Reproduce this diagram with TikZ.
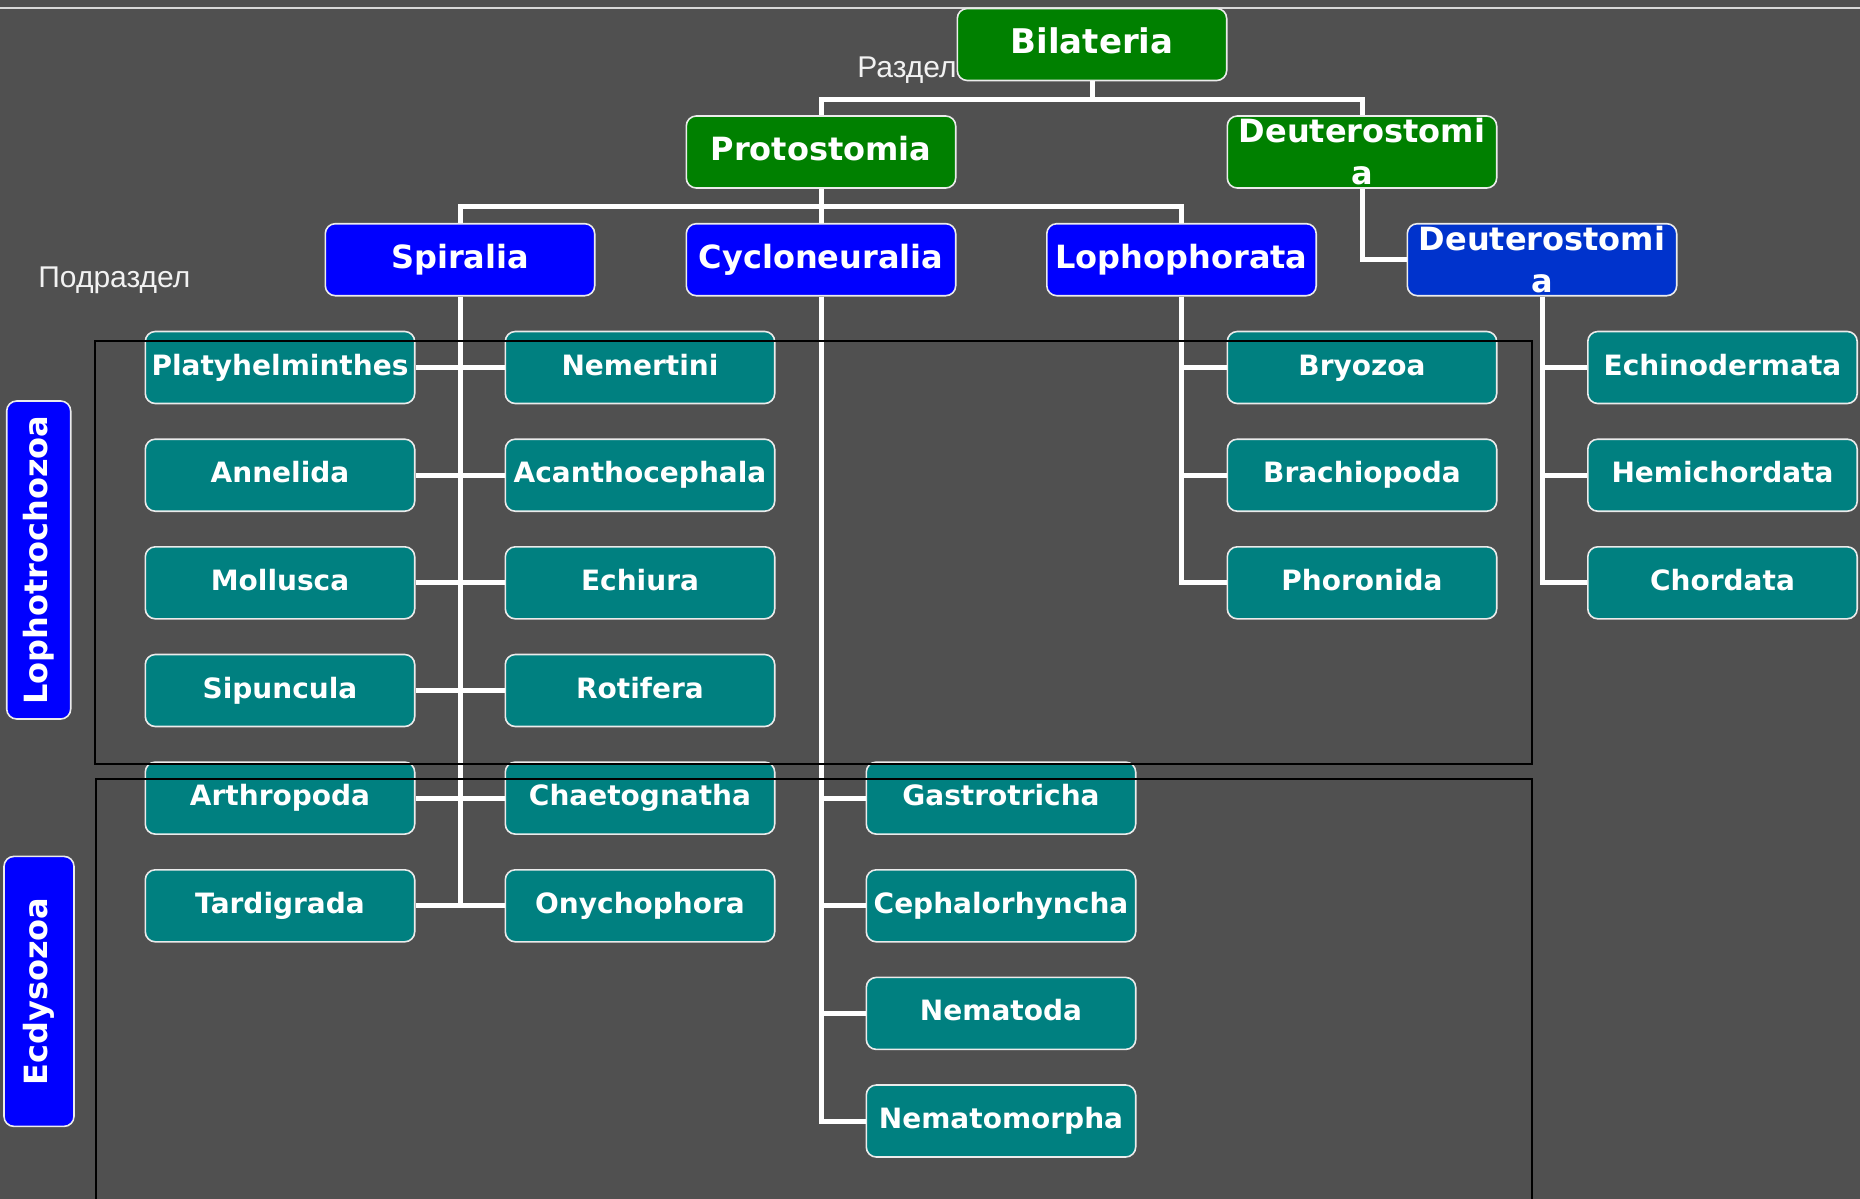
\documentclass[tikz,border=0pt]{standalone}
\usepackage{fontspec}
\setmainfont{DejaVu Sans}
\newfontfamily\rankfont{Liberation Sans}
\definecolor{bggray}{RGB}{80,80,80}
\definecolor{deepblue}{RGB}{0,51,204}

\begin{document}
\begin{tikzpicture}[x=0.5pt,y=-0.5pt,
	taxbox/.style={shape=rectangle,rounded corners=5pt,draw=white!92!black,line width=.8pt,text=white,align=center,inner sep=1pt,minimum width=134.7pt,minimum height=36pt},
	upper/.style={taxbox,font=\fontsize{16}{21}\selectfont\bfseries},
	oneline/.style={text height=11.8pt,text depth=3.3pt},
	leaf/.style={taxbox,text height=10.4pt,text depth=2.9pt,fill=teal,font=\fontsize{14}{17}\selectfont\bfseries},
	sidebox/.style={taxbox,oneline,fill=blue,rotate=90,font=\fontsize{16}{20}\selectfont\bfseries},
	link/.style={draw=white,line width=2.5pt},
	group/.style={draw=black,line width=1pt},
	rank/.style={text=white!95!black,font=\rankfont\fontsize{15}{18}\selectfont,inner sep=0pt}]
			\useasboundingbox (0,0) rectangle (1860,1199);
			\fill[bggray] (0,0) rectangle (1860,1199);
			\draw[white!85!black,line width=1pt] (0,8.3) -- (1860,8.3);
			
			\node[upper,text height=12.5pt,text depth=3.5pt,fill=green!50!black,font=\fontsize{17}{20}\selectfont\bfseries] (Bil) at (1092,44.5) {Bilateria};
			\node[upper,oneline,fill=green!50!black] (Pro) at (821,152) {Protostomia};
			\node[upper,fill=green!50!black] (Deu) at (1362,152) {Deuterostomi\\a};
			\node[upper,oneline,fill=blue] (Spi) at (460,259.7) {Spiralia};
			\node[upper,oneline,fill=blue] (Cyc) at (821,259.7) {Cycloneuralia};
			\node[upper,oneline,fill=blue] (Lop) at (1181.5,259.7) {Lophophorata};
			\node[upper,fill=deepblue] (DeuB) at (1542,259.7) {Deuterostomi\\a};
			
			\node[leaf] (Pla) at (280,367.5) {Platyhelminthes};
			\node[leaf] (Nem) at (640,367.5) {Nemertini};
			\node[leaf] (Ann) at (280,475.2) {Annelida};
			\node[leaf] (Aca) at (640,475.2) {Acanthocephala};
			\node[leaf] (Mol) at (280,582.8) {Mollusca};
			\node[leaf] (Ech) at (640,582.8) {Echiura};
			\node[leaf] (Sip) at (280,690.5) {Sipuncula};
			\node[leaf] (Rot) at (640,690.5) {Rotifera};
			\node[leaf] (Art) at (280,798.1) {Arthropoda};
			\node[leaf] (Cha) at (640,798.1) {Chaetognatha};
			\node[leaf] (Tar) at (280,905.8) {Tardigrada};
			\node[leaf] (Ony) at (640,905.8) {Onychophora};
			
			\node[leaf] (Gas) at (1001,798.1) {Gastrotricha};
			\node[leaf] (Cep) at (1001,905.8) {Cephalorhyncha};
			\node[leaf] (Nea) at (1001,1013.4) {Nematoda};
			\node[leaf] (Nmo) at (1001,1121) {Nematomorpha};
			
			\node[leaf] (Bry) at (1362,367.5) {Bryozoa};
			\node[leaf] (Bra) at (1362,475.2) {Brachiopoda};
			\node[leaf] (Pho) at (1362,582.8) {Phoronida};
			\node[leaf] (Ecd) at (1722.5,367.5) {Echinodermata};
			\node[leaf] (Hem) at (1722.5,475.2) {Hemichordata};
			\node[leaf] (Cho) at (1722.5,582.8) {Chordata};
			
			\node[sidebox,minimum width=159pt,minimum height=32pt] (Lph) at (38.7,560) {Lophotrochozoa};
			\node[sidebox,minimum width=135pt,minimum height=35pt] (Ecy) at (39,991.4) {Ecdysozoa};
			
			\node[rank,anchor=base east] (Raz) at (957,77) {Раздел};
			\node[rank,anchor=base west] (Pod) at (38,287.3) {Подраздел};
			
			\draw[link] (Bil.south) -- ++(0,17.7) -| (Pro.north);
			\draw[link] (Bil.south) -- ++(0,17.7) -| (Deu.north);
			\draw[link] (Pro.south) -- ++(0,17.7) -| (Spi.north);
			\draw[link] (Pro.south) -- (Cyc.north);
			\draw[link] (Pro.south) -- ++(0,17.7) -| (Lop.north);
			\draw[link] (Deu.south) |- (DeuB.west);
			
			\draw[link] (Spi.south) -- (Spi.south |- Tar.east);
			\path[link] (Pla) edge (Nem);
			\path[link] (Ann) edge (Aca);
			\path[link] (Mol) edge (Ech);
			\path[link] (Sip) edge (Rot);
			\path[link] (Art) edge (Cha);
			\path[link] (Tar) edge (Ony);
			
			\draw[link] (Cyc.south) |- (Gas.west);
			\draw[link] (Cyc.south) |- (Cep.west);
			\draw[link] (Cyc.south) |- (Nea.west);
			\draw[link] (Cyc.south) |- (Nmo.west);
			
			\draw[link] (Lop.south) |- (Bry.west);
			\draw[link] (Lop.south) |- (Bra.west);
			\draw[link] (Lop.south) |- (Pho.west);
			\draw[link] (DeuB.south) |- (Ecd.west);
			\draw[link] (DeuB.south) |- (Hem.west);
			\draw[link] (DeuB.south) |- (Cho.west);
			
			\draw[group] (94.7,340.7) rectangle (1531.7,764.3);
			\draw[group] (95.7,1199) -- (95.7,779) -- (1531.7,779) -- (1531.7,1199);
			\end{tikzpicture}
\end{document}
